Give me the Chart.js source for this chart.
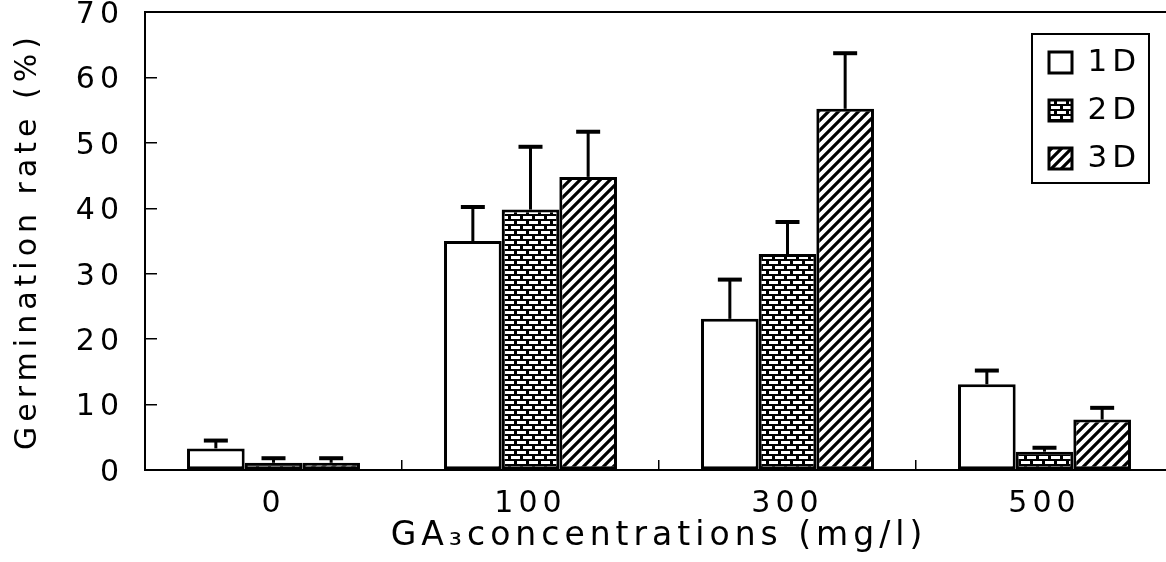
<!DOCTYPE html>
<html><head><meta charset="utf-8">
<script src="https://cdn.jsdelivr.net/npm/chart.js@4.4.1/dist/chart.umd.min.js"></script>
<style>html,body{margin:0;padding:0;background:#fff;overflow:hidden}#wrap{width:1180px;height:562px}</style>
</head><body><div id="wrap"><canvas id="c" width="1180" height="562"></canvas></div>
<script>
const categories = ['0', '100', '300', '500'];
const seriesNames = ['1D', '2D', '3D'];
const values1D = [3.3, 35.0, 23.1, 13.1];
const values2D = [1.1, 39.8, 33.0, 2.8];
const values3D = [1.1, 44.8, 55.2, 7.7];
const err1D = [1.2, 5.2, 6.0, 2.1];
const err2D = [0.7, 9.6, 4.9, 0.6];
const err3D = [0.7, 6.9, 8.5, 1.8];
const yTicks = [0, 10, 20, 30, 40, 50, 60, 70];
const xTitle = 'GA\u2083concentrations (mg/l)';
const yTitle = 'Germination rate (%)';

const FAMILY = "'DejaVu Sans', 'Liberation Sans', Arial, sans-serif";
const SPACING = '5px';

function brickPattern() {
  const c = document.createElement('canvas'); c.width = 12; c.height = 10;
  const g = c.getContext('2d');
  g.fillStyle = '#000'; g.fillRect(0, 0, 12, 10);
  g.fillStyle = '#fff';
  g.fillRect(1, 1, 9, 3);
  g.fillRect(7, 6, 5, 3); g.fillRect(0, 6, 4, 3);
  return g.createPattern(c, 'repeat');
}
function hatchPattern() {
  const s = 10;
  const c = document.createElement('canvas'); c.width = s; c.height = s;
  const g = c.getContext('2d');
  g.fillStyle = '#fff'; g.fillRect(0, 0, s, s);
  g.strokeStyle = '#000'; g.lineWidth = 3.2; g.lineCap = 'square';
  g.beginPath();
  g.moveTo(0, s); g.lineTo(s, 0);
  g.moveTo(-s / 2, s / 2); g.lineTo(s / 2, -s / 2);
  g.moveTo(s / 2, s * 1.5); g.lineTo(s * 1.5, s / 2);
  g.stroke();
  return g.createPattern(c, 'repeat');
}

const errors = [err1D, err2D, err3D];

const stylePlugin = {
  id: 'stylePlugin',
  beforeUpdate(chart) { chart.ctx.letterSpacing = SPACING; },
  afterLayout(chart) {
    const lg = chart.legend, ca = chart.chartArea;
    lg.left = ca.right - 141;
    lg.top = ca.top + 18;
  },
  beforeDraw(chart) { chart.ctx.letterSpacing = SPACING; },
  afterDatasetsDraw(chart) {
    const ctx = chart.ctx, y = chart.scales.y;
    ctx.save();
    ctx.strokeStyle = '#000';
    chart.data.datasets.forEach((ds, i) => {
      const meta = chart.getDatasetMeta(i);
      meta.data.forEach((bar, j) => {
        const top = y.getPixelForValue(ds.data[j] + errors[i][j]);
        ctx.lineWidth = 3;
        ctx.beginPath(); ctx.moveTo(bar.x, bar.y); ctx.lineTo(bar.x, top); ctx.stroke();
        ctx.lineWidth = 4;
        ctx.beginPath(); ctx.moveTo(bar.x - 12, top); ctx.lineTo(bar.x + 12, top); ctx.stroke();
      });
    });
    ctx.restore();
  },
  afterDraw(chart) {
    const ctx = chart.ctx, ca = chart.chartArea, lg = chart.legend;
    ctx.save();
    ctx.strokeStyle = '#000';
    ctx.lineWidth = 2;
    ctx.beginPath(); ctx.moveTo(ca.left, ca.top); ctx.lineTo(ca.right, ca.top); ctx.stroke();
    ctx.lineWidth = 2;
    ctx.strokeRect(lg.left, lg.top + 4, 117, 149);
    ctx.restore();
  }
};

new Chart(document.getElementById('c'), {
  type: 'bar',
  data: {
    labels: categories,
    datasets: [
      { label: seriesNames[0], data: values1D, backgroundColor: '#fff', borderColor: '#000', borderWidth: 3, borderSkipped: false },
      { label: seriesNames[1], data: values2D, backgroundColor: brickPattern(), borderColor: '#000', borderWidth: 3, borderSkipped: false },
      { label: seriesNames[2], data: values3D, backgroundColor: hatchPattern(), borderColor: '#000', borderWidth: 3, borderSkipped: false }
    ]
  },
  options: {
    responsive: false,
    animation: false,
    devicePixelRatio: 1,
    layout: { autoPadding: false, padding: { top: 12, right: 7, left: 0, bottom: 0 } },
    categoryPercentage: 0.673,
    barPercentage: 1.0,
    plugins: {
      tooltip: { enabled: false },
      legend: {
        position: 'chartArea',
        align: 'start',
        labels: {
          color: '#000',
          font: { size: 31, family: FAMILY },
          boxWidth: 23, boxHeight: 21, padding: 17
        }
      }
    },
    scales: {
      x: {
        border: { color: '#000', width: 2 },
        grid: { drawOnChartArea: false, color: '#000', lineWidth: 1.5, tickLength: -10, offset: true },
        ticks: { color: '#000', font: { size: 30, family: FAMILY }, padding: 26 },
        title: { display: true, text: xTitle, color: '#000', font: { size: 33, family: FAMILY }, padding: { top: 0, bottom: 6 } },
        afterFit(s) { s.height = 92; s.paddingLeft = 0; s.paddingRight = 0; }
      },
      y: {
        min: 0, max: 70,
        afterBuildTicks(s) { s.ticks = yTicks.map(v => ({ value: v })); },
        border: { color: '#000', width: 2 },
        grid: { drawOnChartArea: false, color: '#000', lineWidth: 1.5, tickLength: -12 },
        ticks: { color: '#000', font: { size: 30, family: FAMILY }, padding: 33, labelOffset: 3 },
        title: { display: true, text: yTitle, color: '#000', font: { size: 30, family: FAMILY }, padding: { top: 10, bottom: 0 } },
        afterFit(s) { s.width = 145; s.paddingTop = 0; s.paddingBottom = 0; }
      }
    }
  },
  plugins: [stylePlugin]
});
</script>
</body></html>
